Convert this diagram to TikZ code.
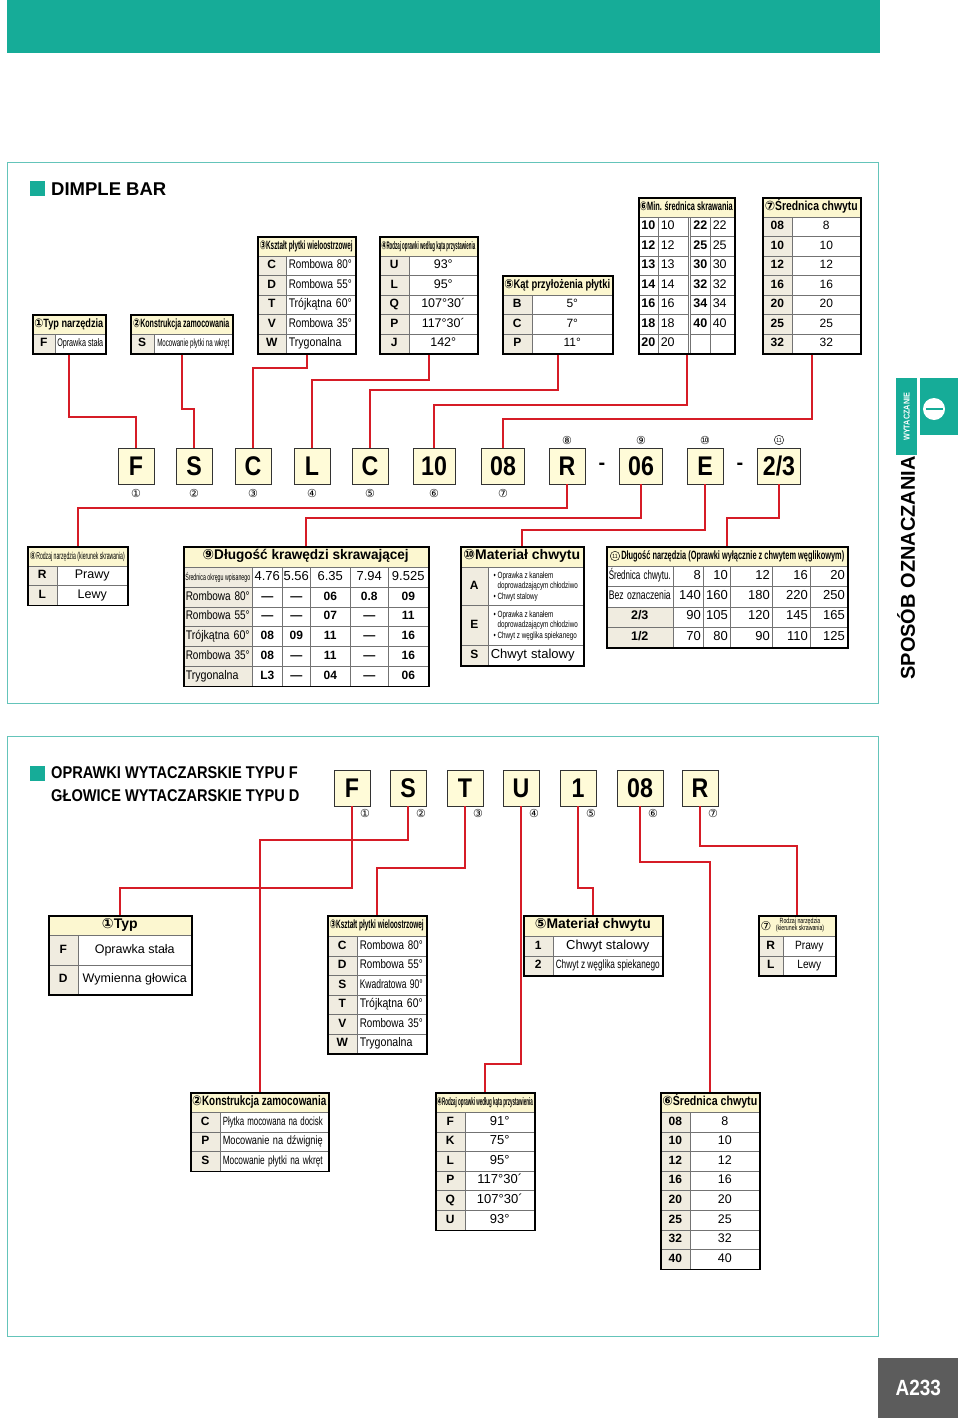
\documentclass[tikz,border=0pt]{standalone}
\usepackage{fontspec}
\usepackage{graphicx}
\setmainfont{Liberation Sans}
\newfontfamily\circf{DejaVu Sans}
\newfontfamily\narrowf[FakeStretch=0.85]{Liberation Sans}
\newfontfamily\condf[FakeStretch=0.7]{Liberation Sans}
\newfontfamily\boxf[FakeStretch=0.86]{Liberation Sans}
\newsavebox\fitbox
\newcommand\fitw[2]{\sbox\fitbox{#2}\ifdim\wd\fitbox>#1\relax\resizebox{#1}{\height}{\usebox\fitbox}\else\usebox\fitbox\fi}
\newcommand\fsz[1]{\fontsize{#1}{#1}\selectfont}
\newcommand\cn[1]{{\circf #1}}
\definecolor{teal1}{RGB}{22,172,152}
\definecolor{framec}{RGB}{100,196,186}
\definecolor{redl}{RGB}{214,28,38}
\definecolor{hdrc}{RGB}{252,247,208}
\definecolor{kodc}{RGB}{240,236,224}
\definecolor{boxc}{RGB}{255,251,216}
\definecolor{grayb}{RGB}{92,92,92}

\begin{document}
\begin{tikzpicture}[x=1pt, y=-1pt]
  \tikzstyle{cellb} = [draw=black!55, line width=0.5pt, anchor=north west, inner sep=0pt, fill=white, font=\fsz{12}]
  \tikzstyle{cell} = [cellb, text height=8.6pt, text depth=2.4pt]
  \tikzstyle{hdr} = [cell, fill=hdrc, font=\bfseries\fsz{12}]
  \tikzstyle{kod} = [cell, fill=kodc, font=\bfseries\fsz{12}]
  \tikzstyle{lft} = [cell, inner xsep=2.5pt, align=left]
  \tikzstyle{rgt} = [cell, inner xsep=2.5pt, align=right]
  \tikzstyle{frm} = [draw=black, line width=1.5pt, anchor=north west, inner sep=0pt]
  \tikzstyle{cbox} = [draw=black!80, fill=boxc, line width=0.8pt, minimum height=36, inner sep=0pt, font=\boxf\bfseries\fsz{27}]
  \tikzstyle{conn} = [draw=redl, line width=2pt]
  \tikzstyle{circ} = [font=\circf\fsz{11}, inner sep=0pt]
  \tikzstyle{ring} = [draw, circle, line width=0.45pt, minimum size=9.5, inner sep=0pt, font=\narrowf\fsz{6}]
  \tikzstyle{tealbox} = [fill=teal1, anchor=north west, inner sep=0pt]
  \useasboundingbox (0,0) rectangle (960,1421);

  \node[tealbox, minimum width=873, minimum height=53] (band) at (7,0) {};
  \node[draw=framec, line width=1.3pt, minimum width=871, minimum height=541, anchor=north west] (sec1) at (7,162) {};
  \node[draw=framec, line width=1.3pt, minimum width=871, minimum height=600, anchor=north west] (sec2) at (7,736) {};

  \node[tealbox, minimum size=15] (sq1) at (30,181) {};
  \node[anchor=west, font=\bfseries\fsz{18.5}, inner sep=0pt] (tit1) at (51,189) {DIMPLE BAR};

  \node[tealbox, minimum width=21, minimum height=77] (tabw) at (896,378) {};
  \node[rotate=90, text=white, font=\boxf\bfseries\fsz{8.5}] (tabtxt) at (tabw) {WYTACZANIE};
  \node[tealbox, minimum width=38, minimum height=57] (tabi) at (920,378) {};
  \begin{scope}
    \clip (920,378) rectangle (958,435);
    \fill[white] (934,409) circle (11);
    \draw[teal1, line width=1.2pt] (926,409) -- (943,409);
  \end{scope}
  \node[rotate=90, font=\bfseries\fsz{20}] (sposob) at (906,568) {SPOSÓB OZNACZANIA};

  % tables above the code
  \node[hdr, minimum width=73, minimum height=19.5, font=\narrowf\bfseries\fsz{12}] (h1) at (32,314) {\fitw{69pt}{\cn{①}Typ narzędzia}};
  \node[kod, minimum width=23, minimum height=19.5] (k1) at (32,333.5) {F};
  \node[cell, minimum width=50, minimum height=19.5, font=\condf\fsz{11}] (v1) at (55,333.5) {\fitw{46pt}{Oprawka stała}};
  \node[frm, minimum width=73, minimum height=39] (t1) at (32,314) {};

  \node[hdr, minimum width=102, minimum height=19.5, font=\narrowf\bfseries\fsz{12}] (h2) at (130,314) {\fitw{96pt}{\cn{②}Konstrukcja zamocowania}};
  \node[kod, minimum width=24, minimum height=19.5] (k2) at (130,333.5) {S};
  \node[cell, minimum width=78, minimum height=19.5, font=\condf\fsz{10.5}] (v2) at (154,333.5) {\fitw{72pt}{Mocowanie płytki na wkręt}};
  \node[frm, minimum width=102, minimum height=39] (t2) at (130,314) {};

  \node[hdr, minimum width=98, minimum height=19.5, font=\narrowf\bfseries\fsz{12}] (h3) at (257,236) {\fitw{93pt}{\cn{③}Kształt płytki wieloostrzowej}};
  \foreach \cd/\vl [count=\i] in {C/Rombowa 80°, D/Rombowa 55°, T/Trójkątna 60°, V/Rombowa 35°, W/Trygonalna} {
    \node[kod, minimum width=29, minimum height=19.5] (k3\i) at (257,236+19.5*\i) {\cd};
    \node[lft, text width=64, minimum height=19.5, font=\narrowf\fsz{12.5}] (v3\i) at (286,236+19.5*\i) {\fitw{63pt}{\vl}};
  }
  \node[frm, minimum width=98, minimum height=117] (t3) at (257,236) {};

  \node[hdr, minimum width=98, minimum height=19.5, font=\condf\bfseries\fsz{11}] (h4) at (379,236) {\fitw{94pt}{\cn{④}Rodzaj oprawki według kąta przystawienia}};
  \foreach \cd/\vl [count=\i] in {U/93°, L/95°, Q/107°30´, P/117°30´, J/142°} {
    \node[kod, minimum width=30, minimum height=19.5] (k4\i) at (379,236+19.5*\i) {\cd};
    \node[cell, minimum width=68, minimum height=19.5, font=\fsz{12.5}] (v4\i) at (409,236+19.5*\i) {\vl};
  }
  \node[frm, minimum width=98, minimum height=117] (t4) at (379,236) {};

  \node[hdr, minimum width=110, minimum height=19.5, font=\narrowf\bfseries\fsz{12.5}] (h5) at (502,275) {\fitw{106pt}{\cn{⑤}Kąt przyłożenia płytki}};
  \foreach \cd/\vl [count=\i] in {B/5°, C/7°, P/11°} {
    \node[kod, minimum width=30, minimum height=19.5] (k5\i) at (502,275+19.5*\i) {\cd};
    \node[cell, minimum width=80, minimum height=19.5] (v5\i) at (532,275+19.5*\i) {\vl};
  }
  \node[frm, minimum width=110, minimum height=78] (t5) at (502,275) {};

  \node[hdr, minimum width=96, minimum height=19.5, font=\narrowf\bfseries\fsz{12}] (h6) at (638,197) {\fitw{93pt}{\cn{⑥}Min. średnica skrawania}};
  \foreach \va/\vb/\vc/\vd [count=\i] in {10/10/22/22, 12/12/25/25, 13/13/30/30, 14/14/32/32, 16/16/34/34, 18/18/40/40, 20/20/{}/{}} {
    \node[kod, fill=white, minimum width=20, minimum height=19.5, font=\bfseries\fsz{12.5}] (a6\i) at (638,197+19.5*\i) {\va};
    \node[lft, text width=25, minimum height=19.5, font=\fsz{12.5}] (b6\i) at (658,197+19.5*\i) {\vb};
    \node[kod, fill=white, minimum width=20, minimum height=19.5, font=\bfseries\fsz{12.5}] (c6\i) at (690,197+19.5*\i) {\vc};
    \node[lft, text width=19, minimum height=19.5, font=\fsz{12.5}] (d6\i) at (710,197+19.5*\i) {\vd};
  }
  \node[frm, minimum width=96, minimum height=156] (t6) at (638,197) {};

  \node[hdr, minimum width=98, minimum height=19.5, font=\narrowf\bfseries\fsz{13}] (h7) at (762,197) {\fitw{93pt}{\cn{⑦}Średnica chwytu}};
  \foreach \cd/\vl [count=\i] in {08/8, 10/10, 12/12, 16/16, 20/20, 25/25, 32/32} {
    \node[kod, minimum width=30, minimum height=19.5] (k7\i) at (762,197+19.5*\i) {\cd};
    \node[cell, minimum width=68, minimum height=19.5] (v7\i) at (792,197+19.5*\i) {\vl};
  }
  \node[frm, minimum width=98, minimum height=156] (t7) at (762,197) {};

  % the code
  \foreach \nm/\x/\w/\t in {bF1/136/36/F, bS1/194/36/S, bC1/253/36/C, bL1/312/36/L, bC2/370/36/C, b10/434/42/10, b08/503/43/08, bR1/567/36/R, b06/641/43/06, bE1/705/36/E, b23/779/43/{2/3}}
    \node[cbox, minimum width=\w] (\nm) at (\x,466) {\t};
  \node[font=\bfseries\fsz{20}] (dash1) at (602,466) {-};
  \node[font=\bfseries\fsz{20}] (dash2) at (740,466) {-};
  \foreach \x/\n [count=\i] in {136/①, 194/②, 253/③, 312/④, 370/⑤, 434/⑥, 503/⑦}
    \node[circ] (nb\i) at (\x,493) {\n};
  \foreach \x/\n [count=\i] in {567/⑧, 641/⑨, 705/⑩}
    \node[circ] (na\i) at (\x,440) {\n};
  \node[ring] (na4) at (779,440) {11};

  % tables below the code
  \node[hdr, minimum width=100, minimum height=19.5, font=\condf\fsz{10}] (h8) at (27,546) {\fitw{95pt}{\cn{⑧}Rodzaj narzędzia (kierunek skrawania)}};
  \foreach \cd/\vl [count=\i] in {R/Prawy, L/Lewy} {
    \node[kod, minimum width=30, minimum height=19.5] (k8\i) at (27,546+19.5*\i) {\cd};
    \node[cell, minimum width=70, minimum height=19.5, font=\fsz{12.5}] (v8\i) at (57,546+19.5*\i) {\vl};
  }
  \node[frm, minimum width=100, minimum height=58.5] (t8) at (27,546) {};

  \node[hdr, minimum width=245, minimum height=21, font=\bfseries\fsz{14}] (h9) at (183,546) {\fitw{206pt}{\cn{⑨}Długość krawędzi skrawającej}};
  \node[cell, fill=kodc, minimum width=69, minimum height=19.8] (r9) at (183,567) {\fitw{65pt}{\condf\fsz{9}Średnica okręgu wpisanego}};
  \foreach \x/\w/\vl [count=\j] in {252/30/4.76, 282/28/5.56, 310/40/6.35, 350/38/7.94, 388/40/9.525}
    \node[cell, minimum width=\w, minimum height=19.8, font=\fsz{13}] (d9\j) at (\x,567) {\vl};
  \foreach \nm/\va/\vb/\vc/\vd/\ve [count=\i] in {Rombowa 80°/—/—/06/0.8/09, Rombowa 55°/—/—/07/—/11, Trójkątna 60°/08/09/11/—/16, Rombowa 35°/08/—/11/—/16, Trygonalna/L3/—/04/—/06} {
    \node[lft, fill=kodc, text width=64, minimum height=19.8, font=\narrowf\fsz{12.5}] (l9\i) at (183,567+19.8*\i) {\fitw{64pt}{\nm}};
    \node[kod, fill=white, minimum width=30, minimum height=19.8] (a9\i) at (252,567+19.8*\i) {\va};
    \node[kod, fill=white, minimum width=28, minimum height=19.8] (b9\i) at (282,567+19.8*\i) {\vb};
    \node[kod, fill=white, minimum width=40, minimum height=19.8] (c9\i) at (310,567+19.8*\i) {\vc};
    \node[kod, fill=white, minimum width=38, minimum height=19.8] (e9\i) at (350,567+19.8*\i) {\vd};
    \node[kod, fill=white, minimum width=40, minimum height=19.8] (f9\i) at (388,567+19.8*\i) {\ve};
  }
  \node[frm, minimum width=245, minimum height=139.8] (t9) at (183,546) {};

  \node[hdr, minimum width=123, minimum height=21, font=\bfseries\fsz{14}] (h10) at (460,546) {\fitw{117pt}{\cn{⑩}Materiał chwytu}};
  \node[kod, minimum width=28, minimum height=38] (k10a) at (460,567) {A};
  \node[cellb, minimum width=95, minimum height=38, align=left, font=\condf\fontsize{9}{10.5}\selectfont] (v10a) at (488,567) {• Oprawka z kanałem\\\hphantom{• }doprowadzającym chłodziwo\\• Chwyt stalowy};
  \node[kod, minimum width=28, minimum height=40] (k10e) at (460,605) {E};
  \node[cellb, minimum width=95, minimum height=40, align=left, font=\condf\fontsize{9}{10.5}\selectfont] (v10e) at (488,605) {• Oprawka z kanałem\\\hphantom{• }doprowadzającym chłodziwo\\• Chwyt z węglika spiekanego};
  \node[kod, minimum width=28, minimum height=20] (k10s) at (460,645) {S};
  \node[lft, text width=90, minimum height=20, font=\fsz{13}] (v10s) at (488,645) {Chwyt stalowy};
  \node[frm, minimum width=123, minimum height=119] (t10) at (460,546) {};

  \node[hdr, minimum width=241, minimum height=20, font=\narrowf\bfseries\fsz{12}] (h11) at (606,546) {\hspace*{12pt}\fitw{223pt}{Długość narzędzia (Oprawki wyłącznie z chwytem węglikowym)}};
  \node[ring] (h11n) at (615,556) {11};
  \foreach \nm/\va/\vb/\vc/\vd/\ve [count=\i] in {Średnica chwytu./8/10/12/16/20, Bez oznaczenia/140/160/180/220/250, {2/3}/90/105/120/145/165, {1/2}/70/80/90/110/125} {
    \ifnum\i<3
      \node[lft, text width=62, minimum height=20.25, font=\narrowf\fsz{12.5}] (l11\i) at (606,566+20.25*\i-20.25) {\fitw{62pt}{\nm}};
    \else
      \node[kod, minimum width=67, minimum height=20.25, font=\bfseries\fsz{12.5}] (l11\i) at (606,566+20.25*\i-20.25) {\nm};
    \fi
    \foreach \x/\w/\vl [count=\j] in {673/30/\va, 703/27/\vb, 730/42/\vc, 772/38/\vd, 810/37/\ve}
      \node[rgt, text width=\w-5, minimum height=20.25, font=\fsz{13}] (n11\i\j) at (\x,566+20.25*\i-20.25) {\vl};
  }
  \node[frm, minimum width=241, minimum height=101] (t11) at (606,546) {};

  % connectors
  \draw[conn] (t1.south) -- ++(0,62) -| (bF1.north);
  \draw[conn] (t2.south) -- ++(0,54) -| (bS1.north);
  \draw[conn] (t3.south) -- ++(0,13) -| (bC1.north);
  \draw[conn] (t4.south) -- ++(0,25) -| (bL1.north);
  \draw[conn] (t5.south) -- ++(0,35) -| (bC2.north);
  \draw[conn] (t6.south) -- ++(0,50) -| (b10.north);
  \draw[conn] (t7.south) -- ++(0,64) -| (b08.north);
  \draw[conn] (bR1.south) -- ++(0,24) -| (t8.north);
  \draw[conn] (b06.south) -- ++(0,34) -| (t9.north);
  \draw[conn] (bE1.south) -- ++(0,46) -| (t10.north);
  \draw[conn] (b23.south) -- ++(0,34) -| (t11.north);

  % second part
  \node[tealbox, minimum size=15] (sq2) at (30,766) {};
  \node[anchor=north west, align=left, font=\boxf\bfseries\fsz{17}, inner sep=0pt] (tit2) at (51,766) {OPRAWKI WYTACZARSKIE TYPU F\\[6pt]GŁOWICE WYTACZARSKIE TYPU D};
  \foreach \nm/\x/\w/\t in {bF2/352/36/F, bS2/408/36/S, bT2/465/36/T, bU2/521/36/U, b12/578/36/1, b082/640/46/08, bR2/700/36/R}
    \node[cbox, minimum width=\w] (\nm) at (\x,788) {\t};
  \foreach \x/\n [count=\i] in {352/①, 408/②, 465/③, 521/④, 578/⑤, 640/⑥, 700/⑦}
    \node[circ] (nc\i) at (\x+13,813) {\n};

  \node[hdr, minimum width=143, minimum height=20, font=\bfseries\fsz{14}] (g1) at (48,915) {\cn{①}Typ};
  \foreach \cd/\vl [count=\i] in {F/Oprawka stała, D/Wymienna głowica} {
    \node[kod, minimum width=30, minimum height=29.5] (kg1\i) at (48,935+29.5*\i-29.5) {\cd};
    \node[cell, minimum width=113, minimum height=29.5, font=\fsz{12.5}] (vg1\i) at (78,935+29.5*\i-29.5) {\vl};
  }
  \node[frm, minimum width=143, minimum height=79] (s1) at (48,915) {};

  \node[hdr, minimum width=99, minimum height=21, font=\narrowf\bfseries\fsz{12}] (g3) at (327,915) {\fitw{94pt}{\cn{③}Kształt płytki wieloostrzowej}};
  \foreach \cd/\vl [count=\i] in {C/Rombowa 80°, D/Rombowa 55°, S/Kwadratowa 90°, T/Trójkątna 60°, V/Rombowa 35°, W/Trygonalna} {
    \node[kod, minimum width=30, minimum height=19.5] (kg3\i) at (327,936+19.5*\i-19.5) {\cd};
    \node[lft, text width=64, minimum height=19.5, font=\narrowf\fsz{12.5}] (vg3\i) at (357,936+19.5*\i-19.5) {\fitw{63pt}{\vl}};
  }
  \node[frm, minimum width=99, minimum height=138] (s3) at (327,915) {};

  \node[hdr, minimum width=139, minimum height=21, font=\bfseries\fsz{14}] (g5) at (523,915) {\fitw{116pt}{\cn{⑤}Materiał chwytu}};
  \node[kod, minimum width=30, minimum height=19.5] (kg51) at (523,936) {1};
  \node[cell, minimum width=109, minimum height=19.5, font=\fsz{13}] (vg51) at (553,936) {Chwyt stalowy};
  \node[kod, minimum width=30, minimum height=19.5] (kg52) at (523,955.5) {2};
  \node[cell, minimum width=109, minimum height=19.5, font=\condf\fsz{12}] (vg52) at (553,955.5) {\fitw{104pt}{Chwyt z węglika spiekanego}};
  \node[frm, minimum width=139, minimum height=60] (s5) at (523,915) {};

  \node[cellb, fill=hdrc, minimum width=77, minimum height=21] (g7) at (758,915) {};
  \node[font=\circf\fsz{12}, inner sep=0pt] (g7n) at (766,926) {⑦};
  \node[font=\condf\fontsize{7.5}{7.5}\selectfont, align=center, inner sep=0pt] (g7t) at (800,925) {Rodzaj narzędzia\\(kierunek skrawania)};
  \foreach \cd/\vl [count=\i] in {R/Prawy, L/Lewy} {
    \node[kod, minimum width=25, minimum height=19.5] (kg7\i) at (758,936+19.5*\i-19.5) {\cd};
    \node[cell, minimum width=52, minimum height=19.5, font=\narrowf\fsz{12}] (vg7\i) at (783,936+19.5*\i-19.5) {\vl};
  }
  \node[frm, minimum width=77, minimum height=60] (s7) at (758,915) {};

  \node[hdr, minimum width=138, minimum height=20, font=\narrowf\bfseries\fsz{13.5}] (g2) at (190,1092) {\fitw{134pt}{\cn{②}Konstrukcja zamocowania}};
  \foreach \cd/\vl [count=\i] in {C/Płytka mocowana na docisk, P/Mocowanie na dźwignię, S/Mocowanie płytki na wkręt} {
    \node[kod, minimum width=30, minimum height=19.6] (kg2\i) at (190,1112+19.6*\i-19.6) {\cd};
    \node[lft, text width=103, minimum height=19.6, font=\narrowf\fsz{12}] (vg2\i) at (220,1112+19.6*\i-19.6) {\fitw{100pt}{\vl}};
  }
  \node[frm, minimum width=138, minimum height=78.8] (s2) at (190,1092) {};

  \node[hdr, minimum width=99, minimum height=20, font=\condf\bfseries\fsz{11}] (g4) at (435,1092) {\fitw{96pt}{\cn{④}Rodzaj oprawki według kąta przystawienia}};
  \foreach \cd/\vl [count=\i] in {F/91°, K/75°, L/95°, P/117°30´, Q/107°30´, U/93°} {
    \node[kod, minimum width=30, minimum height=19.6] (kg4\i) at (435,1112+19.6*\i-19.6) {\cd};
    \node[cell, minimum width=69, minimum height=19.6, font=\fsz{13}] (vg4\i) at (465,1112+19.6*\i-19.6) {\vl};
  }
  \node[frm, minimum width=99, minimum height=137.6] (s4) at (435,1092) {};

  \node[hdr, minimum width=99, minimum height=20, font=\narrowf\bfseries\fsz{13}] (g6) at (660,1092) {\fitw{95pt}{\cn{⑥}Średnica chwytu}};
  \foreach \cd/\vl [count=\i] in {08/8, 10/10, 12/12, 16/16, 20/20, 25/25, 32/32, 40/40} {
    \node[kod, minimum width=30, minimum height=19.6] (kg6\i) at (660,1112+19.6*\i-19.6) {\cd};
    \node[cell, minimum width=69, minimum height=19.6, font=\fsz{12.5}] (vg6\i) at (690,1112+19.6*\i-19.6) {\vl};
  }
  \node[frm, minimum width=99, minimum height=176.8] (s6) at (660,1092) {};

  \draw[conn] (bF2.south) -- ++(0,82) -| (s1.north);
  \draw[conn] (bS2.south) -- ++(0,34) -| (s2.north);
  \draw[conn] (bT2.south) -- ++(0,62) -| (s3.north);
  \draw[conn] (bU2.south) -- ++(0,258) -| (s4.north);
  \draw[conn] (b12.south) -- ++(0,82) -| (s5.north);
  \draw[conn] (b082.south) -- ++(0,56) -| (s6.north);
  \draw[conn] (bR2.south) -- ++(0,40) -| (s7.north);

  \node[tealbox, fill=grayb, minimum width=80, minimum height=60] (pgbox) at (878,1358) {};
  \node[text=white, font=\boxf\bfseries\fsz{22}] (pgnum) at (pgbox) {A233};
\end{tikzpicture}
\end{document}
